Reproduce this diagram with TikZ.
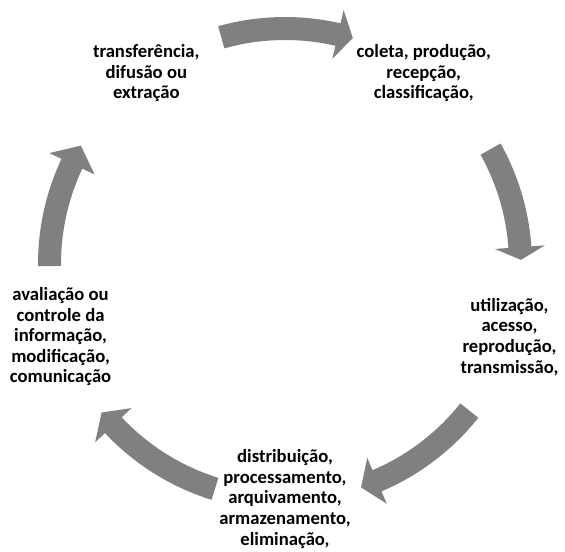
\documentclass[tikz,border=0pt]{standalone}
\usepackage{fontspec}
\setmainfont{Carlito}

\begin{document}
\begin{tikzpicture}[
    x=0.75pt, y=0.75pt,
    etapa/.style={align=center, inner sep=0pt, font=\fontsize{14}{15.4}\selectfont\bfseries},
    seta/.style={fill=gray}
]

    % 1. Área do desenho (centro do ciclo na origem)
    \useasboundingbox (-285,-287) rectangle (280,264);

    % 2. Etapas do ciclo (sobre um círculo de raio 236)
    \node[etapa] (transferencia) at (126:236) {transferência,\\ difusão ou\\ extração};
    \node[etapa] (coleta) at (54:236) {coleta, produção,\\ recepção,\\ classificação,};
    \node[etapa] (utilizacao) at (-18:236) {utilização,\\ acesso,\\ reprodução,\\ transmissão,};
    \node[etapa] (distribuicao) at (-90:235) {distribuição,\\ processamento,\\ arquivamento,\\ armazenamento,\\ eliminação,};
    \node[etapa] (avaliacao) at (-162:236) {avaliação ou\\ controle da\\ informação,\\ modificação,\\ comunicação};

    % 3. Setas curvas entre as etapas (sentido horário)
    % transferência -> coleta
    \fill[seta] (105.7:247) arc[start angle=105.7, end angle=77.0, radius=247] -- (77.0:260.5) -- (73.3:236)
        -- (77.0:210.5) -- (77.0:224) arc[start angle=77.0, end angle=105.7, radius=224] -- cycle;
    % coleta -> utilização
    \fill[seta] (29.2:247) arc[start angle=29.2, end angle=4.1, radius=247] -- (4.1:260.5) -- (1.0:236)
        -- (4.1:210.5) -- (4.1:224) arc[start angle=4.1, end angle=29.2, radius=224] -- cycle;
    % utilização -> distribuição
    \fill[seta] (-38.5:247) arc[start angle=-38.5, end angle=-67.0, radius=247] -- (-67.0:260.5) -- (-71.2:236)
        -- (-67.0:210.5) -- (-67.0:224) arc[start angle=-67.0, end angle=-38.5, radius=224] -- cycle;
    % distribuição -> avaliação
    \fill[seta] (-107.3:247) arc[start angle=-107.3, end angle=-136.8, radius=247] -- (-136.8:260.5) -- (-141.0:236)
        -- (-136.8:210.5) -- (-136.8:224) arc[start angle=-136.8, end angle=-107.3, radius=224] -- cycle;
    % avaliação -> transferência
    \fill[seta] (180.5:247) arc[start angle=180.5, end angle=154.8, radius=247] -- (154.8:260.5) -- (149.9:236)
        -- (154.8:210.5) -- (154.8:224) arc[start angle=154.8, end angle=180.5, radius=224] -- cycle;

\end{tikzpicture}
\end{document}
